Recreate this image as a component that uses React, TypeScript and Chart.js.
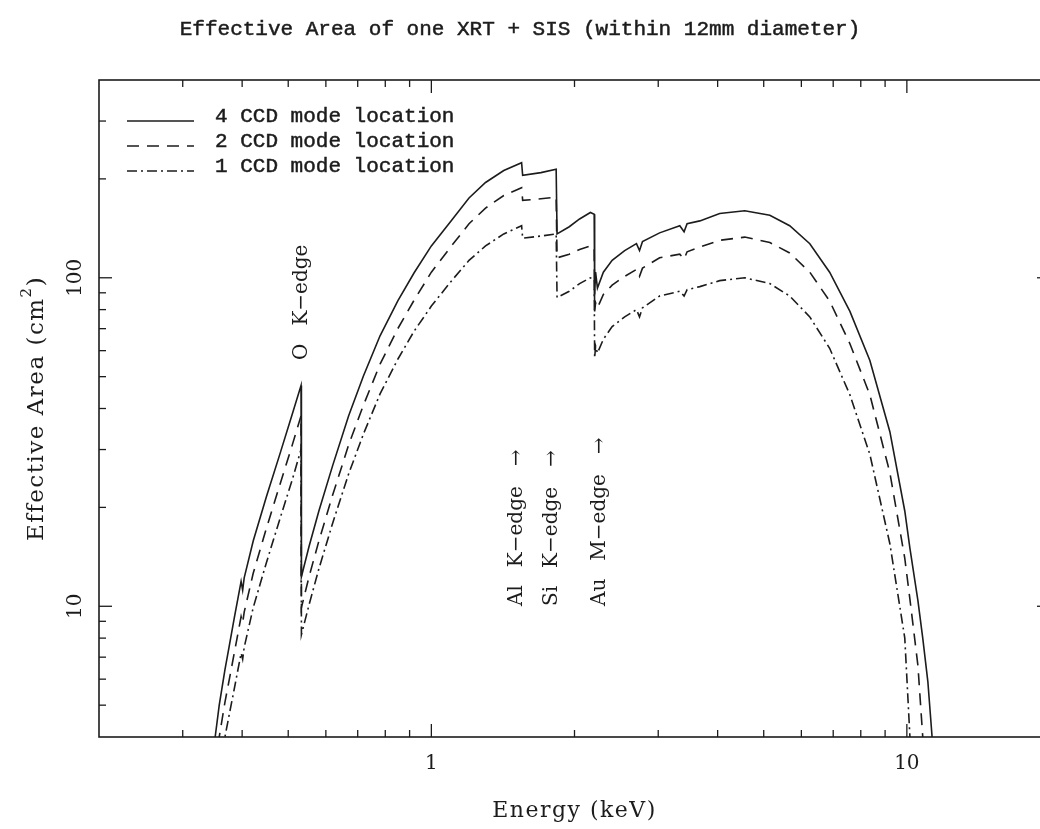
import React, { useEffect, useRef } from "react";
import { Chart, registerables } from "chart.js";

Chart.register(...registerables);

const chartTitle = "Effective Area of one XRT + SIS (within 12mm diameter)";
const xAxisTitle = "Energy (keV)";
const yAxisTitleMain = "Effective Area (cm";
const yAxisTitleSup = "2";
const yAxisTitleEnd = ")";

const seriesNames = ["4 CCD mode location", "2 CCD mode location", "1 CCD mode location"];

const energyKeV = [
  0.34, 0.351, 0.358, 0.368, 0.376, 0.385, 0.398, 0.401, 0.404, 0.422, 0.45, 0.48, 0.51, 0.532,
  0.533, 0.553, 0.58, 0.62, 0.67, 0.72, 0.78, 0.85, 0.92, 1.0, 1.1, 1.2, 1.3, 1.42, 1.548,
  1.556, 1.7, 1.83, 1.838, 1.95, 2.05, 2.16, 2.2, 2.205, 2.215, 2.235, 2.3, 2.4, 2.55, 2.7, 2.74, 2.78,
  3.02, 3.33, 3.4, 3.45, 3.67, 4.04, 4.56, 5.15, 5.67, 6.25, 6.88, 7.59, 8.36, 9.21, 9.9, 10.15,
  10.55, 10.8, 11.07, 11.3, 11.5,
];

const area4CCD = [
  2.9, 4.0, 5.0, 6.4, 7.6, 9.2, 11.9, 11.2, 12.2, 15.8, 21.6, 29, 38.5, 47,
  12.3, 15.2, 19.5, 26.8, 38, 50.3, 66.6, 85, 103.6, 125, 149, 175, 195, 212, 224,
  205, 209, 214, 136, 143, 151, 158, 156, 89, 104, 93, 104, 113, 121, 127, 121, 129,
  137, 144, 138, 146, 149, 157, 160, 155, 144, 127, 104, 79, 56, 34, 19.5, 15,
  10.4, 8, 5.9, 4, 3,
];

const area2CCD = [
  2.5, 3.4, 4.0, 5.1, 6.0, 7.2, 9.3, 8.9, 9.6, 12.6, 17.3, 23.4, 31, 38,
  9.9, 12.3, 15.8, 21.8, 31, 41, 54.6, 70, 85.5, 104, 124.5, 146, 163, 178, 188,
  172, 174, 176, 115, 118, 122, 125, 124, 79, 84, 81, 89, 95, 101, 106, 101, 107,
  115, 118, 114, 120, 124, 130, 133, 128, 119, 104, 85, 63, 44, 25.5, 14, 10.5,
  6.6, 4, 2.8, 2, 1.6,
];

const area1CCD = [
  2.1, 2.9, 3.5, 4.0, 4.7, 5.6, 7.2, 6.9, 7.5, 9.9, 13.6, 18.4, 24.3, 30,
  8.2, 10.1, 13.0, 17.9, 25.3, 33.5, 44.3, 56.5, 68.8, 82, 97.5, 113, 125, 136, 144,
  132, 134, 136, 87, 91, 96, 100, 99, 57, 62, 59, 65, 71, 76, 80, 76, 81,
  88, 91, 88, 92, 94, 98, 100, 96, 88, 76, 61, 44, 29, 15.5, 8, 4,
  2.5, 1.8, 1.5, 1.2, 1,
];

const xMin = 0.2;
const xMax = 20;
const yMin = 4;
const yMax = 400;

const xMajorTicks = [1, 10];
const xMajorLabels = ["1", "10"];
const xMinorTicks = [0.3, 0.4, 0.5, 0.6, 0.7, 0.8, 0.9, 2, 3, 4, 5, 6, 7, 8, 9];
const yMajorTicks = [10, 100];
const yMajorLabels = ["10", "100"];
const yMinorTicks = [5, 6, 7, 8, 9, 20, 30, 40, 50, 60, 70, 80, 90, 200, 300];

const edgeElements = ["O", "Al", "Si", "Au"];
const edgeNames = ["K\u2212edge", "K\u2212edge", "K\u2212edge", "M\u2212edge"];
const edgeLabelEnergies = [0.535, 1.51, 1.79, 2.26];
const edgeHasArrow = [false, true, true, true];

const INK = "#1c1c1c";
const MONO = '"Liberation Mono", "DejaVu Sans Mono", monospace';
const SERIF = '"DejaVu Serif", "Liberation Serif", serif';

const dashes = [[], [12, 8], [10, 4, 2, 4]];

function vText(ctx: CanvasRenderingContext2D, text: string, x: number, y: number, align: CanvasTextAlign) {
  ctx.save();
  ctx.translate(x, y);
  ctx.rotate(-Math.PI / 2);
  ctx.textAlign = align;
  ctx.textBaseline = "middle";
  ctx.fillText(text, 0, 0);
  ctx.restore();
}

function boldish(ctx: CanvasRenderingContext2D, text: string, x: number, y: number) {
  ctx.fillText(text, x, y);
  ctx.lineWidth = 0.5;
  ctx.setLineDash([]);
  ctx.strokeText(text, x, y);
}

const decorPlugin = {
  id: "decor",
  afterDatasetsDraw(chart: any) {
    const ctx: CanvasRenderingContext2D = chart.ctx;
    const a = chart.chartArea;
    const xs = chart.scales.x;
    const ys = chart.scales.y;
    ctx.save();
    ctx.strokeStyle = INK;
    ctx.fillStyle = INK;

    const seg = (x1: number, y1: number, x2: number, y2: number) => {
      ctx.beginPath();
      ctx.moveTo(x1, y1);
      ctx.lineTo(x2, y2);
      ctx.stroke();
    };

    // frame
    ctx.lineWidth = 1.6;
    ctx.setLineDash([]);
    ctx.strokeRect(a.left, a.top, a.right - a.left, a.bottom - a.top);

    // ticks
    ctx.lineWidth = 1.3;
    const xTick = (v: number, len: number) => {
      const px = xs.getPixelForValue(v);
      seg(px, a.bottom, px, a.bottom - len);
      seg(px, a.top, px, a.top + len);
    };
    const yTick = (v: number, len: number) => {
      const py = ys.getPixelForValue(v);
      seg(a.left, py, a.left + len, py);
      seg(a.right, py, a.right - len, py);
    };
    xMajorTicks.forEach((v) => xTick(v, 13));
    xMinorTicks.forEach((v) => xTick(v, 7));
    yMajorTicks.forEach((v) => yTick(v, 13));
    yMinorTicks.forEach((v) => yTick(v, 7));

    // tick labels
    ctx.font = `20px ${SERIF}`;
    ctx.textAlign = "center";
    ctx.textBaseline = "middle";
    xMajorTicks.forEach((v, i) => {
      ctx.fillText(xMajorLabels[i], xs.getPixelForValue(v), 764);
    });
    yMajorTicks.forEach((v, i) => {
      vText(ctx, yMajorLabels[i], 76, ys.getPixelForValue(v), "center");
    });

    // axis titles
    ctx.font = `22px ${SERIF}`;
    (ctx as any).letterSpacing = "1.5px";
    ctx.textAlign = "center";
    ctx.fillText(xAxisTitle, (a.left + a.right) / 2, 811);

    // y title with superscript
    const yc = (a.top + a.bottom) / 2;
    ctx.font = `23px ${SERIF}`;
    const w1 = ctx.measureText(yAxisTitleMain).width;
    const w3 = ctx.measureText(yAxisTitleEnd).width;
    ctx.font = `15px ${SERIF}`;
    const w2 = ctx.measureText(yAxisTitleSup).width;
    const total = w1 + w2 + w3;
    const start = yc + total / 2;
    ctx.font = `23px ${SERIF}`;
    vText(ctx, yAxisTitleMain, 37, start, "left");
    ctx.font = `15px ${SERIF}`;
    vText(ctx, yAxisTitleSup, 27, start - w1, "left");
    ctx.font = `23px ${SERIF}`;
    vText(ctx, yAxisTitleEnd, 37, start - w1 - w2, "left");
    (ctx as any).letterSpacing = "0px";

    // title
    ctx.font = `21px ${MONO}`;
    ctx.textAlign = "center";
    ctx.textBaseline = "middle";
    boldish(ctx, chartTitle, 520, 29);

    // legend
    chart.data.datasets.forEach((ds: any, i: number) => {
      const ly = 121 + 25 * i;
      ctx.lineWidth = 1.6;
      ctx.setLineDash(ds.borderDash || []);
      seg(127, ly, 194, ly);
      ctx.setLineDash([]);
      ctx.font = `21px ${MONO}`;
      ctx.textAlign = "left";
      ctx.textBaseline = "middle";
      boldish(ctx, seriesNames[i], 215, 116 + 25 * i);
    });

    // edge annotations
    ctx.font = `20px ${SERIF}`;
    edgeElements.forEach((el, i) => {
      const px = xs.getPixelForValue(edgeLabelEnergies[i]);
      const bottom = i === 0 ? 360 : 606;
      vText(ctx, el, px, bottom, "left");
      const mainStart = bottom - ctx.measureText(el).width - 18;
      vText(ctx, edgeNames[i], px, mainStart, "left");
      if (edgeHasArrow[i]) {
        const arrowStart = mainStart - ctx.measureText(edgeNames[i]).width - 20;
        vText(ctx, "\u2192", px, arrowStart, "left");
      }
    });

    ctx.restore();
  },
};

export default function App() {
  const canvasRef = useRef<HTMLCanvasElement | null>(null);

  useEffect(() => {
    if (!canvasRef.current) return;
    const series = [area4CCD, area2CCD, area1CCD];
    const chart = new Chart(canvasRef.current, {
      type: "scatter",
      data: {
        datasets: series.map((vals, i) => ({
          label: seriesNames[i],
          data: energyKeV.map((e, j) => ({ x: e, y: vals[j] })),
          showLine: true,
          borderColor: INK,
          borderWidth: 1.6,
          borderDash: dashes[i],
          pointRadius: 0,
          pointHoverRadius: 0,
          fill: false,
          tension: 0,
          clip: 0,
        })),
      },
      options: {
        responsive: false,
        maintainAspectRatio: false,
        animation: false,
        events: [],
        layout: { padding: { left: 99, top: 80, right: 50, bottom: 92 } },
        plugins: {
          legend: { display: false },
          tooltip: { enabled: false },
          title: { display: false },
        },
        scales: {
          x: { type: "logarithmic", min: xMin, max: xMax, display: false, bounds: "data" },
          y: { type: "logarithmic", min: yMin, max: yMax, display: false, bounds: "data" },
        },
      },
      plugins: [decorPlugin],
    } as any);
    return () => chart.destroy();
  }, []);

  return (
    <div
      style={{
        position: "fixed",
        left: 0,
        top: 0,
        width: 1040,
        height: 829,
        overflow: "hidden",
        background: "#ffffff",
      }}
    >
      <canvas ref={canvasRef} width={1100} height={829} style={{ display: "block" }} />
    </div>
  );
}
